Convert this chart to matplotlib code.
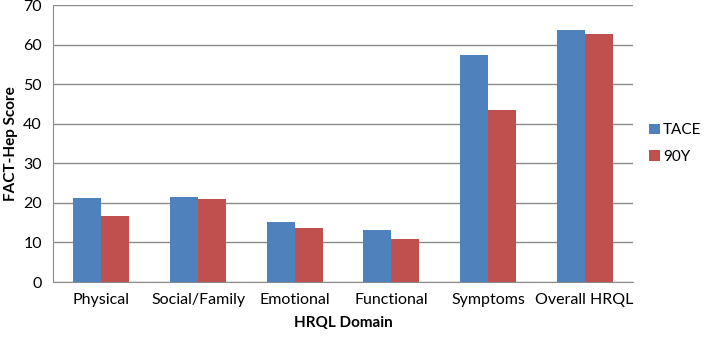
import matplotlib
matplotlib.use("Agg")
import matplotlib.pyplot as plt
import numpy as np

categories = ["Physical", "Social/Family", "Emotional", "Functional", "Symptoms", "Overall HRQL"]
tace = [21.2, 21.6, 15.1, 13.1, 57.3, 63.8]
y90 = [16.8, 21.0, 13.6, 11.0, 43.4, 62.8]
yticks = [0, 10, 20, 30, 40, 50, 60, 70]

plt.rcParams['font.family'] = ['Lato', 'DejaVu Sans']

fig = plt.figure(figsize=(7.08, 3.37), dpi=100)
ax = fig.add_axes([0.075, 0.163, 0.819, 0.822])

x = np.arange(len(categories))
w = 0.29
ax.bar(x - w/2, tace, w, color="#4F81BD", label="TACE", zorder=3)
ax.bar(x + w/2, y90, w, color="#C0504D", label="90Y", zorder=3)

ax.set_xlim(-0.5, len(categories) - 0.5)
ax.set_ylim(0, 70)
ax.set_yticks(yticks)
ax.yaxis.grid(True, color="#8C8C8C", linewidth=1.0, zorder=0)
ax.set_axisbelow(True)
for s in ["top", "right"]:
    ax.spines[s].set_visible(False)
for s in ["left", "bottom"]:
    ax.spines[s].set_color("#8C8C8C")
ax.tick_params(axis="both", length=0, labelsize=11.5, pad=8)
ax.set_xticks(x)
ax.set_xticklabels(categories)
ax.set_ylabel("FACT-Hep Score", fontsize=11, fontweight="bold")
ax.set_xlabel("HRQL Domain", fontsize=11, fontweight="bold", labelpad=6)

ax.legend(loc="center left", bbox_to_anchor=(1.012, 0.5), frameon=False,
          fontsize=11, handlelength=0.7, handleheight=0.7, handletextpad=0.2,
          labelspacing=0.8, borderaxespad=0.3, borderpad=0.3)

fig.savefig("out.png", dpi=100)
